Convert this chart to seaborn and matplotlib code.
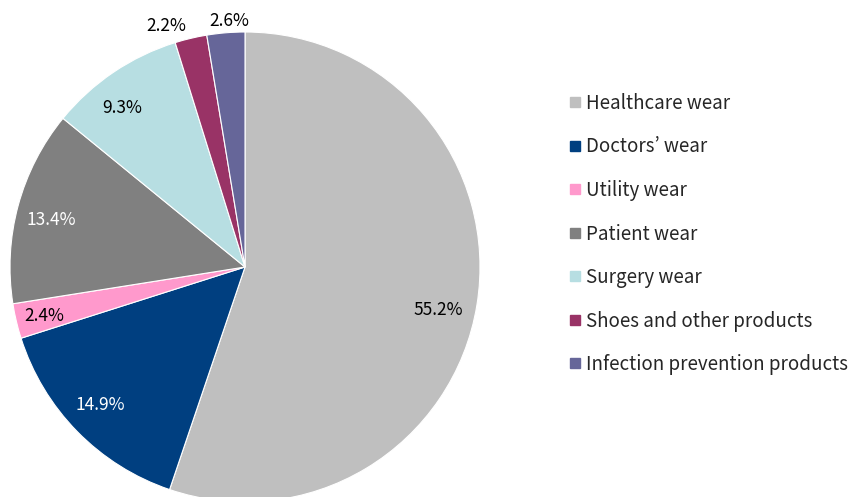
import matplotlib
matplotlib.use("Agg")
import matplotlib.pyplot as plt
from matplotlib.lines import Line2D
import numpy as np
import seaborn as sns

categories = ["Healthcare wear", "Doctors\u2019 wear", "Utility wear", "Patient wear",
              "Surgery wear", "Shoes and other products", "Infection prevention products"]
shares = [55.2, 14.9, 2.4, 13.4, 9.3, 2.2, 2.6]
colors = ["#BFBFBF", "#003F80", "#FF99CC", "#808080", "#B7DEE2", "#993366", "#666699"]
label_colors = ["black", "white", "black", "white", "black", "black", "black"]
label_radius = [0.84, 0.85, 0.88, 0.85, 0.855, 1.08, 1.05]
label_angle_shift = [-3.1, -0.7, 0.5, 1.6, 3.7, 4.7, -1.1]

sns.set_theme(style="white")
plt.rcParams["font.family"] = ["Noto Sans CJK JP", "DejaVu Sans"]

W, H = 848, 497
fig = plt.figure(figsize=(W / 100, H / 100), dpi=100)
ax = fig.add_axes([10 / W, -5 / H, 470 / W, 470 / H])

wedges, texts, autotexts = ax.pie(
    shares, colors=colors, startangle=90, counterclock=False,
    autopct=lambda p: f"{p:.1f}%", pctdistance=1.0,
    wedgeprops=dict(edgecolor="white", linewidth=0.8),
    textprops=dict(fontsize=12.5))
for w, t, c, r, s in zip(wedges, autotexts, label_colors, label_radius, label_angle_shift):
    ang = np.deg2rad((w.theta1 + w.theta2) / 2 + s)
    t.set_position((r * np.cos(ang), r * np.sin(ang)))
    t.set_color(c)
ax.set_xlim(-1, 1)
ax.set_ylim(-1, 1)
ax.set_aspect("equal")
ax.axis("off")

handles = [Line2D([0], [0], marker="s", linestyle="none", markersize=7,
                  markerfacecolor=c, markeredgecolor=c) for c in colors]
fig.legend(handles, categories, loc="upper left", bbox_to_anchor=(569 / W, 1 - 93 / H),
           frameon=False, fontsize=13.5, labelspacing=1.2, handlelength=0.6,
           handletextpad=0.3, borderaxespad=0, borderpad=0)

fig.savefig("out.png", dpi=100)
